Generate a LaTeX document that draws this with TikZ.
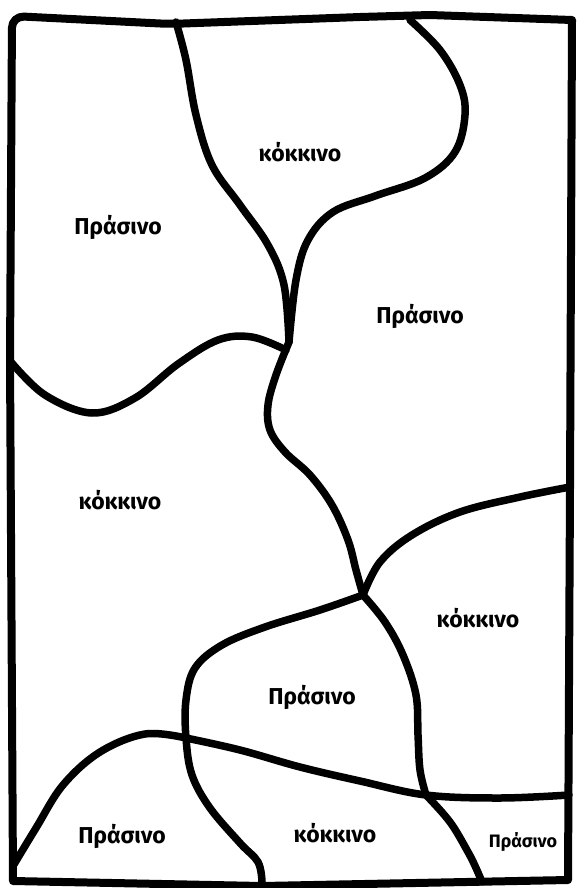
\documentclass[tikz,border=0pt]{standalone}
\usepackage{fontspec}
\setmainfont{Fira Sans}

\begin{document}
\begin{tikzpicture}[x=1pt,y=-1pt,line width=8pt,line join=round,line cap=round,
  frontera/.style={line width=7.5pt},
  etiqueta/.style={font=\fontsize{23}{26}\selectfont\bfseries},
  etiquetapeq/.style={font=\fontsize{18}{21}\selectfont\bfseries}]
  \useasboundingbox (0,0) rectangle (581,888);
  % borde
  \draw (13,881) -- (10,360) [rounded corners=12pt] -- (12,16) -- (170,24)
    [sharp corners] -- (360,17) -- (430,15) -- (572,20) -- (570,487)
    -- (568,880) -- (262,886) -- cycle;
  % cruces
  \coordinate (nA) at (289,342);
  \coordinate (nB) at (363,595);
  \coordinate (nC) at (186,738);
  \coordinate (nD) at (426,795);
  % fronteras
  \draw[frontera] plot[smooth,tension=0.6] coordinates {(176,22) (186,60) (196,115) (212,165) (240,205) (268,245) (284,285) (nA)};
  \draw[frontera] plot[smooth,tension=0.6] coordinates {(410,20) (440,50) (460,85) (465,115) (455,152) (425,178) (375,196) (333,212) (308,240) (296,280) (nA)};
  \draw[frontera] plot[smooth,tension=0.6] coordinates {(11,362) (45,395) (92,413) (135,398) (178,364) (218,340) (252,337) (286,350)};
  \draw[frontera] plot[smooth,tension=0.6] coordinates {(nA) (276,375) (268,405) (270,430) (285,452) (310,475) (332,505) (348,540) (356,570) (nB)};
  \draw[frontera] plot[smooth,tension=0.6] coordinates {(570,487) (520,497) (460,512) (412,535) (380,562) (nB)};
  \draw[frontera] plot[smooth,tension=0.6] coordinates {(nB) (385,622) (403,655) (416,695) (418,735) (420,770) (nD)};
  \draw[frontera] plot[smooth,tension=0.6] coordinates {(nB) (320,610) (265,627) (222,645) (195,668) (186,700) (nC) (192,775) (210,808) (240,843) (258,862) (262,882)};
  \draw[frontera] plot[smooth,tension=0.6] coordinates {(nC) (240,750) (300,767) (360,781) (nD) (500,798) (569,795)};
  \draw[frontera] plot[smooth,tension=0.6] coordinates {(13,866) (36,828) (63,785) (100,752) (145,734) (nC)};
  \draw[frontera] plot[smooth,tension=0.6] coordinates {(nD) (450,822) (468,852) (476,868) (482,882)};
  % regiones
  \node[etiqueta] (r1) at (300,152) {κόκκινο};
  \node[etiqueta] (r2) at (118,227) {Πράσινο};
  \node[etiqueta] (r3) at (420,316) {Πράσινο};
  \node[etiqueta] (r4) at (120,500) {κόκκινο};
  \node[etiqueta] (r5) at (478,618) {κόκκινο};
  \node[etiqueta] (r6) at (312,697) {Πράσινο};
  \node[etiqueta] (r7) at (122,836) {Πράσινο};
  \node[etiqueta] (r8) at (335,833) {κόκκινο};
  \node[etiquetapeq] (r9) at (523,842) {Πράσινο};
\end{tikzpicture}
\end{document}
